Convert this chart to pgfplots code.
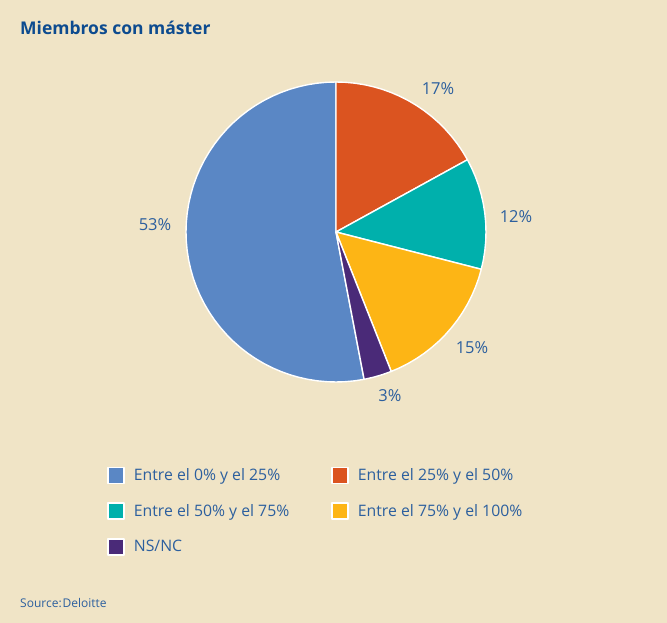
\documentclass[border=0pt]{standalone}
\usepackage{pgfplots}
\pgfplotsset{compat=1.18}
\usepgfplotslibrary{polar}
\usepackage{fontspec}
\setmainfont{Open Sans}
\definecolor{Bg}{HTML}{F0E4C6}
\definecolor{TitleBlue}{HTML}{0D4B8F}
\definecolor{TextBlue}{HTML}{2C5F9E}
\definecolor{SliceBlue}{HTML}{5A87C5}
\definecolor{SliceOrange}{HTML}{DB5420}
\definecolor{SliceTeal}{HTML}{00B0AC}
\definecolor{SliceYellow}{HTML}{FDB515}
\definecolor{SlicePurple}{HTML}{4A2A78}

\begin{document}
\begin{tikzpicture}[x=1pt,y=1pt]
\useasboundingbox (0,0) rectangle (667,623);
\fill[Bg] (0,0) rectangle (667,623);
\node[anchor=base west, font=\fontsize{17.5}{20}\selectfont\bfseries, text=TitleBlue, inner sep=0]
  at (20,588) {Miembros con máster};
\node[anchor=base west, font=\fontsize{12}{14}\selectfont, text=TextBlue, inner sep=0]
  at (20,15) {Source:\kern1pt Deloitte};

% slices: one step per 1% (3.6 degrees), clockwise from the top
\begin{polaraxis}[
  at={(186pt,241pt)}, anchor=south west,
  scale only axis, width=300pt, height=300pt,
  ymin=0, ymax=1, hide axis, clip=false,
  legend columns=2,
  legend style={at={(-0.263,-0.282)}, anchor=north west, draw=none, fill=none,
    inner sep=0pt, font=\fontsize{15.8}{18}\selectfont, text=TextBlue,
    row sep=18pt,
    nodes={inner sep=1pt, anchor=west},
    /tikz/every odd column/.append style={column sep=8pt},
    /tikz/every even column/.append style={column sep=41pt}},
  legend image code/.code={\fill[#1, draw=white, line width=1.6pt] (0pt,-8pt) rectangle (16pt,8pt);},
  every axis plot/.append style={draw=white, line width=1.4pt, line join=round},
]
% Entre el 0% y el 25%: 53%
\addplot[fill=SliceBlue] coordinates {
  (0,0) (280.8,1) (277.2,1) (273.6,1) (270,1) (266.4,1) (262.8,1) (259.2,1) (255.6,1)
  (252,1) (248.4,1) (244.8,1) (241.2,1) (237.6,1) (234,1) (230.4,1) (226.8,1)
  (223.2,1) (219.6,1) (216,1) (212.4,1) (208.8,1) (205.2,1) (201.6,1) (198,1)
  (194.4,1) (190.8,1) (187.2,1) (183.6,1) (180,1) (176.4,1) (172.8,1) (169.2,1)
  (165.6,1) (162,1) (158.4,1) (154.8,1) (151.2,1) (147.6,1) (144,1) (140.4,1)
  (136.8,1) (133.2,1) (129.6,1) (126,1) (122.4,1) (118.8,1) (115.2,1) (111.6,1)
  (108,1) (104.4,1) (100.8,1) (97.2,1) (93.6,1) (90,1)
} -- cycle;
\addlegendentry{Entre el 0\% y el 25\%}
% Entre el 25% y el 50%: 17%
\addplot[fill=SliceOrange] coordinates {
  (0,0) (90,1) (86.4,1) (82.8,1) (79.2,1) (75.6,1) (72,1) (68.4,1) (64.8,1) (61.2,1)
  (57.6,1) (54,1) (50.4,1) (46.8,1) (43.2,1) (39.6,1) (36,1) (32.4,1) (28.8,1)
} -- cycle;
\addlegendentry{Entre el 25\% y el 50\%}
% Entre el 50% y el 75%: 12%
\addplot[fill=SliceTeal] coordinates {
  (0,0) (28.8,1) (25.2,1) (21.6,1) (18,1) (14.4,1) (10.8,1) (7.2,1) (3.6,1) (0,1)
  (-3.6,1) (-7.2,1) (-10.8,1) (-14.4,1)
} -- cycle;
\addlegendentry{Entre el 50\% y el 75\%}
% Entre el 75% y el 100%: 15%
\addplot[fill=SliceYellow] coordinates {
  (0,0) (-14.4,1) (-18,1) (-21.6,1) (-25.2,1) (-28.8,1) (-32.4,1) (-36,1) (-39.6,1)
  (-43.2,1) (-46.8,1) (-50.4,1) (-54,1) (-57.6,1) (-61.2,1) (-64.8,1) (-68.4,1)
} -- cycle;
\addlegendentry{Entre el 75\% y el 100\%}
% NS/NC: 3%
\addplot[fill=SlicePurple] coordinates {
  (0,0) (-68.4,1) (-72,1) (-75.6,1) (-79.2,1)
} -- cycle;
\addlegendentry{NS/NC}
\end{polaraxis}

\begin{scope}[every node/.style={font=\fontsize{16.5}{18}\selectfont, text=TextBlue, inner sep=0}]
\node at (438,534) {17\%};
\node at (516,406) {12\%};
\node at (472,275) {15\%};
\node at (390,227) {3\%};
\node at (155,398) {53\%};
\end{scope}
\end{tikzpicture}
\end{document}
